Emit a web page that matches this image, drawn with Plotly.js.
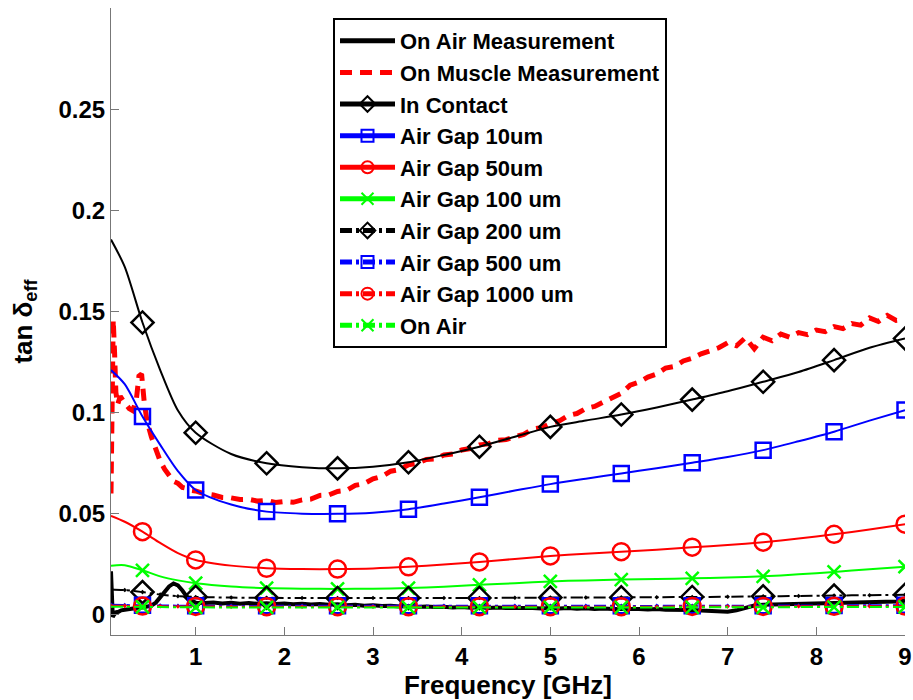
<!DOCTYPE html>
<html><head><meta charset="utf-8">
<script src="https://cdn.plot.ly/plotly-3.0.1.min.js"></script>
<style>html,body{margin:0;padding:0;background:#fff;}#chart{width:913px;height:700px;}</style>
</head><body><div id="chart"></div>
<script>
// ---- Data ----
const seriesNames = ["On Air Measurement","On Muscle Measurement","In Contact","Air Gap 10um","Air Gap 50um","Air Gap 100 um","Air Gap 200 um","Air Gap 500 um","Air Gap 1000 um","On Air"];

// measured, on air
const airMeasFreq = [0.045,0.05,0.055,0.065,0.08,0.1,0.13,0.16,0.2,0.25,0.3,0.35,0.4,0.45,0.5,0.55,0.6,0.65,0.7,0.75,0.8,0.85,0.9,0.95,1.0,
 1.1,1.2,1.3,1.4,1.5,1.6,1.7,1.8,1.9,2.0,2.1,2.2,2.3,2.4,2.5,2.6,2.7,2.8,2.9,3.0,3.1,3.2,3.3,3.4,3.5,3.6,3.7,3.8,3.9,4.0,
 4.1,4.2,4.3,4.4,4.5,4.6,4.7,4.8,4.9,5.0,5.1,5.2,5.3,5.4,5.5,5.6,5.7,5.8,5.9,6.0,6.1,6.2,6.3,6.4,6.5,6.6,6.7,6.8,6.9,7.0,
 7.1,7.2,7.3,7.4,7.5,7.6,7.7,7.8,7.9,8.0,8.1,8.2,8.3,8.4,8.5,8.6,8.7,8.8,8.9,9.0];
const airMeasVal = [0.0215,0.010,0.001,-0.001,0.000,0.0012,0.0015,0.0022,0.0025,0.0030,0.0032,0.0035,0.0036,0.0040,0.0045,0.0060,0.0085,0.0110,0.0140,0.0155,0.0145,0.0120,0.0090,0.0070,0.0060,
 0.0058,0.0061,0.0056,0.0059,0.0055,0.0058,0.0054,0.0057,0.0053,0.0056,0.0052,0.0055,0.0051,0.0053,0.0049,0.0052,0.0047,0.0049,0.0045,0.0047,0.0043,0.0045,0.0041,0.0043,0.0039,0.0041,0.0038,0.0040,0.0036,0.0038,
 0.0035,0.0037,0.0034,0.0036,0.0033,0.0035,0.0032,0.0034,0.0031,0.0034,0.0031,0.0033,0.0030,0.0032,0.0029,0.0031,0.0028,0.0030,0.0027,0.0029,0.0026,0.0028,0.0025,0.0026,0.0023,0.0024,0.0021,0.0020,0.0017,0.0015,
 0.0022,0.0035,0.0046,0.0049,0.0050,0.0052,0.0051,0.0054,0.0053,0.0056,0.0055,0.0058,0.0057,0.0060,0.0059,0.0062,0.0062,0.0065,0.0066,0.0069];

// measured, on muscle
const muscleFreq = [0.045,0.05,0.06,0.07,0.085,0.1,0.12,0.15,0.18,0.21,0.25,0.29,0.33,0.36,0.39,0.42,0.45,0.5,0.55,0.6,0.65,0.7,0.75,0.8,0.85,0.9,0.95,
 1.0,1.1,1.2,1.3,1.4,1.5,1.6,1.7,1.8,1.9,2.0,2.1,2.2,2.3,2.4,2.5,2.6,2.7,2.8,2.9,3.0,3.1,3.2,3.3,3.4,3.5,3.6,3.7,3.8,3.9,4.0,
 4.1,4.2,4.3,4.4,4.5,4.6,4.7,4.8,4.9,5.0,5.1,5.2,5.3,5.4,5.5,5.6,5.7,5.8,5.9,6.0,6.1,6.2,6.3,6.4,6.5,6.6,6.7,6.8,6.9,7.0,
 7.1,7.2,7.3,7.4,7.5,7.6,7.7,7.8,7.9,8.0,8.1,8.2,8.3,8.4,8.5,8.6,8.7,8.8,8.9,9.0];
const muscleVal = [0.060,0.085,0.125,0.146,0.130,0.110,0.104,0.108,0.106,0.104,0.102,0.101,0.106,0.118,0.119,0.105,0.096,0.088,0.082,0.076,0.072,0.069,0.066,0.065,0.063,0.0625,0.0615,
 0.0612,0.0598,0.0592,0.0580,0.0578,0.0570,0.0571,0.0562,0.0566,0.0555,0.0560,0.0556,0.0568,0.0572,0.0590,0.0592,0.0610,0.0615,0.0640,0.0648,0.0672,0.0684,0.0710,0.0718,0.0742,0.0748,0.0768,0.0770,0.0790,0.0795,0.0815,
 0.0822,0.0840,0.0845,0.0862,0.0866,0.0880,0.0892,0.0918,0.0925,0.0945,0.0958,0.0985,0.0995,0.1020,0.1030,0.1052,0.1075,0.1095,0.1135,0.1150,0.1175,0.1190,0.1220,0.1228,0.1255,0.1268,0.1290,0.1305,0.1320,0.1345,
 0.1330,0.1370,0.1315,0.1372,0.1355,0.1388,0.1372,0.1395,0.1385,0.1408,0.1400,0.1425,0.1415,0.1440,0.1432,0.1468,0.1450,0.1480,0.1455,0.1460];

// simulated
const simFreq = [0.045,0.2,0.4,0.6,0.8,1.0,1.4,1.8,2.2,2.6,3.0,3.4,3.8,4.2,4.6,5.0,5.4,5.8,6.2,6.6,7.0,7.4,7.8,8.2,8.6,9.0];
const markerFreq = [0.4,1.0,1.8,2.6,3.4,4.2,5.0,5.8,6.6,7.4,8.2,9.0];
const inContact = [0.1855,0.172,0.1445,0.121,0.101,0.090,0.0795,0.0749,0.0730,0.0724,0.0732,0.0754,0.0790,0.0831,0.0880,0.0929,0.0960,0.0990,0.1025,0.1064,0.1105,0.1152,0.1200,0.1259,0.1320,0.1366];
const gap10 = [0.121,0.114,0.098,0.084,0.071,0.0617,0.0545,0.0510,0.0500,0.0499,0.0505,0.0522,0.0550,0.0581,0.0614,0.0646,0.0673,0.0699,0.0725,0.0752,0.0780,0.0814,0.0858,0.0905,0.0960,0.1012];
const gap50 = [0.0489,0.046,0.0411,0.0355,0.0305,0.0271,0.0243,0.0230,0.0226,0.0226,0.0229,0.0237,0.0248,0.0261,0.0276,0.0291,0.0302,0.0312,0.0322,0.0334,0.0345,0.0359,0.0377,0.0398,0.0422,0.0448];
const gap100 = [0.0243,0.0245,0.0220,0.0190,0.0170,0.0156,0.0140,0.0132,0.0129,0.0128,0.0129,0.0132,0.0139,0.0148,0.0156,0.0165,0.0170,0.0174,0.0177,0.0180,0.0184,0.0190,0.0200,0.0212,0.0225,0.0238];
const gap200 = [0.0125,0.0122,0.0112,0.0100,0.0092,0.0088,0.0085,0.0084,0.0083,0.0083,0.0083,0.0083,0.0083,0.0083,0.0084,0.0085,0.0085,0.0086,0.0087,0.0088,0.0089,0.0091,0.0093,0.0095,0.0097,0.0099];
const gap500 = [0.0049,0.0048,0.0047,0.0046,0.0045,0.0045,0.0044,0.0044,0.0044,0.0044,0.0044,0.0044,0.0044,0.0044,0.0044,0.0044,0.0044,0.0044,0.0044,0.0045,0.0045,0.0045,0.0046,0.0046,0.0047,0.0047];
const gap1000 = [0.0044,0.0044,0.0043,0.0042,0.0041,0.0041,0.0040,0.0040,0.0040,0.0040,0.0040,0.0040,0.0040,0.0040,0.0040,0.0040,0.0040,0.0040,0.0040,0.0041,0.0041,0.0041,0.0042,0.0042,0.0042,0.0043];
const onAir = [0.0040,0.0040,0.0039,0.0038,0.0037,0.0037,0.0036,0.0036,0.0036,0.0036,0.0036,0.0036,0.0036,0.0036,0.0036,0.0036,0.0036,0.0036,0.0036,0.0037,0.0037,0.0037,0.0038,0.0038,0.0038,0.0039];

const xTicks = [1,2,3,4,5,6,7,8,9];
const yTicks = [0,0.05,0.1,0.15,0.2,0.25];
const yTickText = ["0","0.05","0.1","0.15","0.2","0.25"];

// ---- Build ----
function msizes(s){ return simFreq.map(f => markerFreq.some(m => Math.abs(m-f)<1e-9) ? s : 0); }
function simTrace(name, y, color, symbol, size, dash){
  return {x: simFreq, y: y, name: name, type:'scatter', mode:'lines+markers',
    line:{color:color, width:2, shape:'spline', smoothing:0.8, dash:dash||'solid'},
    marker:{symbol:symbol, size:msizes(size), opacity:1, color:color, line:{color:color, width:2.5}}};
}
const dd = '12px,4px,3px,4px';
const traces = [
  {x: airMeasFreq, y: airMeasVal, name: seriesNames[0], type:'scatter', mode:'lines', line:{color:'#000', width:4}},
  {x: muscleFreq, y: muscleVal, name: seriesNames[1], type:'scatter', mode:'lines', line:{color:'#ff0000', width:5, dash:'12px,8px'}},
  simTrace(seriesNames[2], inContact, '#000000', 'diamond-open', 17),
  simTrace(seriesNames[3], gap10, '#0000ff', 'square-open', 15),
  simTrace(seriesNames[4], gap50, '#ff0000', 'circle-open', 17),
  simTrace(seriesNames[5], gap100, '#00ff00', 'x-thin-open', 13),
  simTrace(seriesNames[6], gap200, '#000000', 'diamond-open-dot', 17, dd),
  simTrace(seriesNames[7], gap500, '#0000ff', 'square-open-dot', 15, dd),
  simTrace(seriesNames[8], gap1000, '#ff0000', 'circle-open-dot', 17, dd),
  simTrace(seriesNames[9], onAir, '#00ff00', 'x-thin-open', 13, dd)
];

const fontFam = '"Liberation Sans", Arial, sans-serif';
const layout = {
  width: 913, height: 700,
  margin: {l:111, r:8, t:8, b:65},
  paper_bgcolor:'#fff', plot_bgcolor:'#fff',
  font: {family: fontFam, size: 24, color:'#000', weight: 'bold'},
  showlegend: true,
  legend: {x: 0.2796, y: 0.984, xanchor:'left', yanchor:'top', bgcolor:'#fff', bordercolor:'#000', borderwidth:2,
    font:{family: fontFam, size: 22, color:'#000', weight:'bold'}, itemwidth: 55, itemsizing:'constant', tracegroupgap:0},
  xaxis: {range:[0.045, 9], tickvals: xTicks, ticktext: xTicks.map(String), ticks:'inside', ticklen:8, tickcolor:'#777', tickwidth:1,
    showline:true, linecolor:'#777', linewidth:1, mirror:false, showgrid:false, zeroline:false,
    tickfont:{family: fontFam, size:24, weight:'bold'},
    title:{text:'Frequency [GHz]', font:{family: fontFam, size:26, weight:'bold'}, standoff: 4}},
  yaxis: {range:[-0.01, 0.3], tickvals: yTicks, ticktext: yTickText, ticks:'inside', ticklen:8, tickcolor:'#777', tickwidth:1,
    showline:true, linecolor:'#777', linewidth:1, mirror:false, showgrid:false, zeroline:false,
    tickfont:{family: fontFam, size:24, weight:'bold'},
    title:{text:'tan δ<sub>eff</sub>', font:{family: fontFam, size:26, weight:'bold'}, standoff: 18}}
};
Plotly.newPlot('chart', traces, layout, {displayModeBar:false, staticPlot:true});
</script>
</body></html>
